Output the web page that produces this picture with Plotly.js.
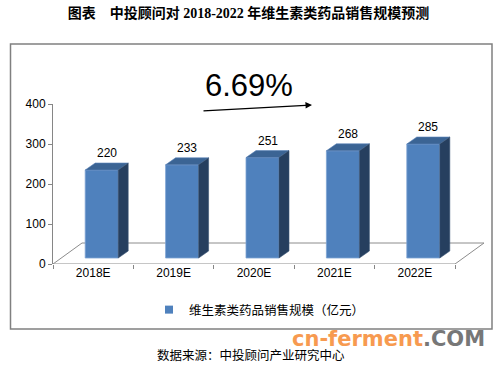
<!DOCTYPE html>
<html>
<head>
<meta charset="utf-8">
<script src="https://cdn.plot.ly/plotly-3.0.1.min.js"></script>
<style>html,body{margin:0;padding:0;background:#fff;}#chart{width:497px;height:365px;}</style>
</head>
<body>
<div id="chart"></div>
<script>
// ---- data ----
var categories = ["2018E", "2019E", "2020E", "2021E", "2022E"];
var salesValues = [220, 233, 251, 268, 285];
var seriesName = "维生素类药品销售规模（亿元）";
var growthLabel = "6.69%";
var yTicks = [0, 100, 200, 300, 400];
var titleText = "图表　中投顾问对 2018-2022 年维生素类药品销售规模预测";
var sourceText = "数据来源：中投顾问产业研究中心";

// ---- geometry (in axis units) ----
var PXX = 402 / 5, PXY = 160 / 400;
var frontDX = 8.5 / PXX, frontDY = 6 / PXY;      // bar front face offset into depth
var halfW = 16.5 / PXX;
var depthDX = 10 / PXX, depthDY = 7 / PXY;       // bar depth
var floorDX = 29 / PXX, floorDY = 21 / PXY;      // floor depth
var nCat = categories.length;
var xMax = nCat + floorDX;
var plotW = xMax * PXX;

var fx = [], fy = [], tx = [], ty = [], sx = [], sy = [];
var annotations = [];
categories.forEach(function (c, i) {
  var cx = i + 0.5 + frontDX;
  var v = salesValues[i];
  var b = frontDY, t = v + frontDY;
  var L = cx - halfW, R = cx + halfW;
  fx.push(L, R, R, L, L, null); fy.push(b, b, t, t, b, null);
  tx.push(L, R, R + depthDX, L + depthDX, L, null); ty.push(t, t, t + depthDY, t + depthDY, t, null);
  sx.push(R, R + depthDX, R + depthDX, R, R, null); sy.push(b, b + depthDY, t + depthDY, t, b, null);
  annotations.push({
    x: cx + depthDX / 2, y: t + depthDY, yshift: 10, xref: 'x', yref: 'y',
    text: String(v), showarrow: false, yanchor: 'middle', xanchor: 'center',
    font: {family: 'Liberation Sans, Arial, sans-serif', size: 12, color: '#000'}
  });
});

var traces = [
  {x: [0, nCat, nCat + floorDX, floorDX, 0], y: [0, 0, floorDY, floorDY, 0], mode: 'lines',
   line: {color: '#8c8c8c', width: 1}, showlegend: false, hoverinfo: 'skip'},
  {x: fx, y: fy, mode: 'lines', fill: 'toself', fillcolor: '#4F81BD',
   line: {color: '#7ea3d3', width: 0.8}, showlegend: false, hoverinfo: 'skip'},
  {x: tx, y: ty, mode: 'lines', fill: 'toself', fillcolor: '#3B6494',
   line: {color: '#5a83b8', width: 0.6}, showlegend: false, hoverinfo: 'skip'},
  {x: sx, y: sy, mode: 'lines', fill: 'toself', fillcolor: '#263F5F',
   line: {color: '#3a5676', width: 0.6}, showlegend: false, hoverinfo: 'skip'},
  {x: [null], y: [null], mode: 'markers', name: seriesName,
   marker: {symbol: 'square', size: 8, color: '#4F81BD'}, showlegend: true}
];

var font = 'Liberation Sans, Arial, Noto Sans CJK SC, sans-serif';
var px2paperX = function (p) { return (p - 53) / plotW; };
var px2paperY = function (p) { return (264 - p) / 160; };

annotations.push(
  {xref: 'paper', yref: 'paper', x: px2paperX(249.5), y: px2paperY(85), text: growthLabel,
   showarrow: false, xanchor: 'center', yanchor: 'middle',
   font: {family: 'Liberation Sans, Arial, sans-serif', size: 31, color: '#000'}},
  {xref: 'paper', yref: 'paper', x: px2paperX(312), y: px2paperY(105), ax: -110, ay: 6,
   text: '', showarrow: true, arrowhead: 2, arrowsize: 1, arrowwidth: 1.3, arrowcolor: '#000'},
  {xref: 'paper', yref: 'paper', x: px2paperX(251), y: px2paperY(354), text: sourceText,
   showarrow: false, xanchor: 'center', yanchor: 'middle',
   font: {family: 'Noto Sans CJK SC, sans-serif', size: 12.5, color: '#000'}},
  {xref: 'paper', yref: 'paper', x: px2paperX(388.5), y: px2paperY(339),
   text: "<b><span style='color:#F79A50'>cn-ferment</span><span style='color:#777777'>.COM</span></b>",
   showarrow: false, xanchor: 'center', yanchor: 'middle',
   font: {family: 'DejaVu Sans, Verdana, sans-serif', size: 21, color: '#F79A50'}}
);

var layout = {
  width: 497, height: 365,
  margin: {l: 53, r: 497 - 53 - plotW, t: 104, b: 101},
  paper_bgcolor: '#fff', plot_bgcolor: 'rgba(0,0,0,0)',
  font: {family: font, size: 12, color: '#000'},
  title: {text: '<b>' + titleText + '</b>', x: 0.5, xref: 'container', xanchor: 'center',
          y: 1 - 13 / 365, yref: 'container', yanchor: 'middle',
          font: {family: 'Liberation Serif, Noto Sans CJK SC, serif', size: 14, color: '#000'}},
  xaxis: {range: [0, xMax], showgrid: false, zeroline: false, showline: false,
          tickmode: 'array', tickvals: categories.map(function (c, i) { return i + 0.5; }), ticktext: categories,
          ticks: '', tickfont: {family: font, size: 12, color: '#000'},
          minor: {tickmode: 'array', tickvals: categories.map(function (c, i) { return i; }).concat([nCat]),
                  ticks: 'outside', ticklen: 4, tickcolor: '#868686', showgrid: false},
          fixedrange: true},
  yaxis: {range: [0, 400], tickmode: 'array', tickvals: yTicks, showgrid: false, zeroline: false,
          showline: true, linecolor: '#868686', linewidth: 1, ticks: 'outside', ticklen: 4, tickcolor: '#868686',
          tickfont: {family: font, size: 12, color: '#000'}, fixedrange: true},
  showlegend: true,
  legend: {orientation: 'h', x: px2paperX(149), y: px2paperY(310), xanchor: 'left', yanchor: 'middle',
           font: {family: 'Noto Sans CJK SC, sans-serif', size: 12.5, color: '#000'}, bgcolor: 'rgba(0,0,0,0)'},
  shapes: [{type: 'rect', xref: 'paper', yref: 'paper',
            x0: px2paperX(10.5), x1: px2paperX(492), y0: px2paperY(329), y1: px2paperY(44),
            line: {color: '#808080', width: 1.5}, fillcolor: 'rgba(0,0,0,0)', layer: 'below'}],
  annotations: annotations
};

Plotly.newPlot('chart', traces, layout, {staticPlot: true, displayModeBar: false});
</script>
</body>
</html>
